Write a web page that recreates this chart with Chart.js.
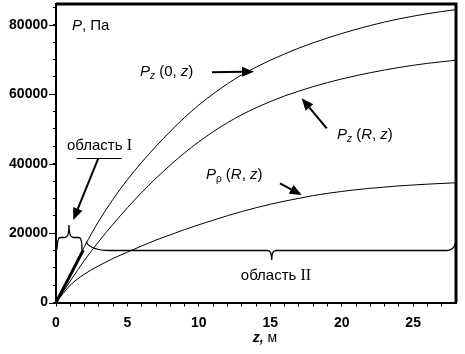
<!DOCTYPE html>
<html>
<head>
<meta charset="utf-8">
<script src="https://cdn.jsdelivr.net/npm/chart.js@4.4.0/dist/chart.umd.min.js"></script>
<style>
  html, body { margin: 0; padding: 0; background: #fff; }
  canvas { display: block; }
</style>
</head>
<body>
<canvas id="chart" width="465" height="354"></canvas>
<script>
// values
const zPoints = [0, 1, 2, 3, 4, 5, 6, 7, 8, 9, 10, 11, 12, 13, 14, 15, 16, 17, 18, 20, 22, 24, 26, 28];
const pz0 = [0, 8300, 16200, 23500, 29800, 35400, 40400, 45000, 49300, 53300, 56900, 60100, 63000, 65600, 67800, 69800, 71600, 73300, 74800, 77500, 79800, 81700, 83200, 84400];
const pzR = [0, 6200, 12200, 17600, 22600, 27300, 31700, 35800, 39600, 43100, 46300, 49200, 51800, 54100, 56100, 57900, 59500, 60900, 62200, 64400, 66200, 67700, 68900, 69800];
const pRho = [0, 5000, 8200, 10600, 12700, 14500, 16300, 18000, 19500, 21000, 22400, 23700, 25000, 26200, 27300, 28300, 29200, 30000, 30800, 32000, 32900, 33600, 34100, 34500];
// region I solution (thick part near the origin)
const zRegion1 = [0, 1, 1.91];
const pRegion1 = [0, 7900, 15130];

const xTicks = [0, 1, 2, 3, 4, 5, 6, 7, 8, 9, 10, 11, 12, 13, 14, 15, 16, 17, 18, 19, 20, 21, 22, 23, 24, 25, 26, 27];
const xTickLabels = [0, 5, 10, 15, 20, 25];
const yTicks = [0, 5000, 10000, 15000, 20000, 25000, 30000, 35000, 40000, 45000, 50000, 55000, 60000, 65000, 70000, 75000, 80000, 85000];
const yTickLabels = [0, 20000, 40000, 60000, 80000];

const sans = '"Liberation Sans", Arial, sans-serif';
const serif = '"Liberation Serif", "Times New Roman", serif';

function toPoints(xs, ys) {
    return xs.map((x, i) => ({ x: x, y: ys[i] }));
}

function curve(data, width) {
    return {
        data: data,
        borderColor: '#000',
        borderWidth: width,
        pointRadius: 0,
        fill: false,
        cubicInterpolationMode: 'monotone'
    };
}

// labels, arrows and braces, placed in data units
const annotations = {
    id: 'annotations',
    afterDraw(chart) {
        const ctx = chart.ctx;
        const area = chart.chartArea;
        const X = z => chart.scales.x.getPixelForValue(z);
        const Y = v => chart.scales.y.getPixelForValue(v);

        ctx.save();
        ctx.strokeStyle = '#000';
        ctx.fillStyle = '#000';

        // heavy top and right frame
        ctx.lineWidth = 3;
        ctx.beginPath();
        ctx.moveTo(area.left, area.top);
        ctx.lineTo(area.right, area.top);
        ctx.lineTo(area.right, area.bottom);
        ctx.stroke();

        // longer ticks at labelled values
        ctx.lineWidth = 1;
        yTickLabels.forEach(v => {
            const y = Math.round(Y(v)) + 0.5;
            ctx.beginPath();
            ctx.moveTo(area.left - 7, y);
            ctx.lineTo(area.left, y);
            ctx.stroke();
        });

        function arrow(z1, v1, z2, v2) {
            const x1 = X(z1), y1 = Y(v1), x2 = X(z2), y2 = Y(v2);
            const a = Math.atan2(y2 - y1, x2 - x1);
            const bx = x2 - 12 * Math.cos(a), by = y2 - 12 * Math.sin(a);
            ctx.lineWidth = 2;
            ctx.beginPath();
            ctx.moveTo(x1, y1);
            ctx.lineTo(bx, by);
            ctx.stroke();
            ctx.beginPath();
            ctx.moveTo(x2, y2);
            ctx.lineTo(bx + 5 * Math.sin(a), by - 5 * Math.cos(a));
            ctx.lineTo(bx - 5 * Math.sin(a), by + 5 * Math.cos(a));
            ctx.closePath();
            ctx.fill();
        }

        function brace(b) {
            const x1 = X(b.z1), x2 = X(b.z2), xp = X(b.zPeak);
            const yl = Y(b.vLine), y1 = Y(b.vEnd1), y2 = Y(b.vEnd2), yp = Y(b.vPeak);
            ctx.lineWidth = 1.3;
            ctx.beginPath();
            ctx.moveTo(x1, y1);
            ctx.quadraticCurveTo(x1 + b.c1 * 0.2, yl, x1 + b.c1, yl);
            ctx.lineTo(xp - 4, yl);
            ctx.quadraticCurveTo(xp, yl, xp, yp);
            ctx.quadraticCurveTo(xp, yl, xp + 4, yl);
            ctx.lineTo(x2 - b.c2, yl);
            ctx.quadraticCurveTo(x2, yl, x2, y2);
            ctx.stroke();
        }

        function rich(z, v, list, align) {
            let x = X(z);
            const y = Y(v);
            ctx.textBaseline = 'middle';
            ctx.textAlign = 'left';
            if (align === 'center') {
                let w = 0;
                list.forEach(p => { ctx.font = p.f; w += ctx.measureText(p.t).width; });
                x -= w / 2;
            }
            list.forEach(p => {
                ctx.font = p.f;
                ctx.fillText(p.t, x, y + (p.dy || 0));
                x += ctx.measureText(p.t).width;
            });
        }

        const it = 'italic 15px ' + sans;
        const up = '15px ' + sans;
        const sub = 'italic 10px ' + sans;

        rich(1.12, 79660, [{ t: 'P', f: it }, { t: ', Па', f: up }]);
        rich(5.88, 66410, [{ t: 'P', f: it }, { t: 'z', f: sub, dy: 4 }, { t: ' (0, ', f: up }, { t: 'z', f: it }, { t: ')', f: up }]);
        rich(19.67, 48260, [{ t: 'P', f: it }, { t: 'z', f: sub, dy: 4 }, { t: ' (', f: up }, { t: 'R', f: it }, { t: ', ', f: up }, { t: 'z', f: it }, { t: ')', f: up }]);
        rich(10.5, 36730, [{ t: 'P', f: it }, { t: 'ρ', f: '10px ' + sans, dy: 4 }, { t: ' (', f: up }, { t: 'R', f: it }, { t: ', ', f: up }, { t: 'z', f: it }, { t: ')', f: up }]);
        rich(0.77, 45090, [{ t: 'область ', f: up }, { t: 'I', f: '16px ' + serif }]);
        rich(15.4, 7630, [{ t: 'область ', f: up }, { t: 'II', f: '16px ' + serif }], 'center');
        rich(14.63, -10230, [{ t: 'z,', f: 'italic bold 14px ' + sans }, { t: ' м', f: '14px ' + sans }], 'center');

        arrow(10.92, 66320, 13.86, 66500);
        arrow(18.95, 50190, 17.2, 58830);
        arrow(15.68, 34340, 17.2, 30970);
        arrow(2.96, 41540, 1.21, 23770);

        // underline of "область I"
        ctx.lineWidth = 1;
        ctx.beginPath();
        ctx.moveTo(X(1.44), Math.round(Y(41540)) + 0.5);
        ctx.lineTo(X(4.6), Math.round(Y(41540)) + 0.5);
        ctx.stroke();

        brace({ z1: 0.07, vEnd1: 15330, z2: 1.82, vEnd2: 15130, vLine: 18730, zPeak: 0.91, vPeak: 22330, c1: 3, c2: 3 });
        brace({ z1: 2.1, vEnd1: 17520, z2: 28, vEnd2: 18500, vLine: 14980, zPeak: 15.1, vPeak: 12250, c1: 24, c2: 10 });

        ctx.restore();
    }
};

const ctx = document.getElementById('chart').getContext('2d');
new Chart(ctx, {
    type: 'line',
    data: {
        datasets: [
            curve(toPoints(zPoints, pz0), 1),
            curve(toPoints(zPoints, pzR), 1),
            curve(toPoints(zPoints, pRho), 1),
            curve(toPoints(zRegion1, pRegion1), 3)
        ]
    },
    options: {
        responsive: false,
        animation: false,
        devicePixelRatio: 1,
        layout: { padding: { top: 4, right: 9, left: 0, bottom: 0 } },
        plugins: {
            legend: { display: false },
            tooltip: { enabled: false }
        },
        scales: {
            x: {
                type: 'linear',
                min: 0,
                max: 28,
                afterBuildTicks: scale => { scale.ticks = xTicks.map(v => ({ value: v })); },
                ticks: {
                    autoSkip: false,
                    maxRotation: 0,
                    padding: 8,
                    color: '#000',
                    font: { family: sans, size: 14, weight: 'bold' },
                    callback: v => xTickLabels.includes(v) ? String(v) : ''
                },
                grid: { drawOnChartArea: false, tickLength: 4, color: '#000' },
                border: { color: '#000', width: 2 },
                afterFit: scale => {
                    scale.height = 51.5;
                    scale.paddingLeft = 0;
                    scale.paddingRight = 0;
                }
            },
            y: {
                min: 0,
                max: 86000,
                afterBuildTicks: scale => { scale.ticks = yTicks.map(v => ({ value: v })); },
                ticks: {
                    autoSkip: false,
                    padding: 5,
                    color: '#000',
                    font: { family: sans, size: 14, weight: 'bold' },
                    callback: v => yTickLabels.includes(v) ? String(v) : ''
                },
                grid: { drawOnChartArea: false, tickLength: 3, color: '#000' },
                border: { color: '#000', width: 2 },
                afterFit: scale => {
                    scale.width = 56;
                    scale.paddingTop = 0;
                    scale.paddingBottom = 0;
                }
            }
        }
    },
    plugins: [annotations]
});
</script>
</body>
</html>
